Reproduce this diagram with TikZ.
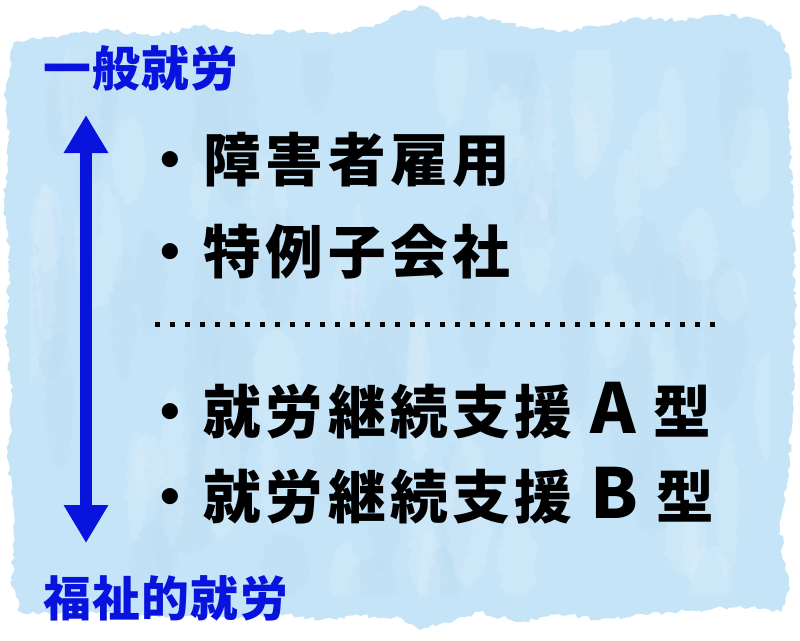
\documentclass[tikz,border=0pt]{standalone}
\usepackage{fontspec}
\newfontfamily\jp{Noto Sans CJK JP}
\newfontfamily\jplargo{Noto Sans CJK JP}[LetterSpace=8]
\newfontfamily\jpmeio{Noto Sans CJK JP}[LetterSpace=3]
\usetikzlibrary{arrows.meta,decorations.pathmorphing}
\definecolor{aguada}{RGB}{198,228,247}
\definecolor{mancha}{RGB}{176,214,240}
\definecolor{azul}{RGB}{8,20,222}
\newcommand{\letra}[1]{{\fontsize{49}{48}\selectfont #1}}
\tikzset{
  rotulo/.style={anchor=west, inner sep=0pt, text=azul, font=\jpmeio\bfseries\fontsize{34}{40}\selectfont},
  item/.style={anchor=west, inner sep=0pt, text=black, font=\jplargo\bfseries\fontsize{41}{48}\selectfont},
}
\begin{document}
\begin{tikzpicture}[x=0.025cm, y=-0.025cm]
        \useasboundingbox (0,0) rectangle (800,640);
        % Desenha o fundo rasgado
        \pgfmathsetseed{7}
        \path[fill=aguada, decorate, decoration={random steps, segment length=3pt, amplitude=1.6pt}]
          (14,42) -- (60,36) -- (110,30) -- (150,36) -- (200,26) -- (250,34) -- (300,30)
          -- (340,34) -- (380,24) -- (405,10) -- (425,6) -- (445,20) -- (480,16) -- (520,26)
          -- (560,32) -- (600,26) -- (640,18) -- (680,20) -- (720,14) -- (760,20) -- (780,32)
          -- (790,60) -- (788,120) -- (793,200) -- (795,300) -- (793,400) -- (788,480)
          -- (780,520) -- (783,560) -- (790,590) -- (782,612)
          -- (740,606) -- (700,610) -- (650,614) -- (600,620) -- (560,614) -- (520,622)
          -- (480,612) -- (440,624) -- (420,630) -- (400,618) -- (360,616) -- (320,620)
          -- (280,614) -- (240,618) -- (200,614) -- (150,617) -- (100,612) -- (50,614)
          -- (20,612) -- (12,580) -- (15,520) -- (8,460) -- (12,400) -- (6,330) -- (10,260)
          -- (4,200) -- (9,140) -- (6,90) -- (10,60) -- cycle;
        % Manchas da aguada
        \begin{scope}
          \clip (30,50) rectangle (770,595);
          \foreach \i in {1,...,45} {
            \pgfmathsetmacro{\mx}{30+740*rnd}
            \pgfmathsetmacro{\my}{50+540*rnd}
            \fill[mancha, opacity=0.16, decorate, decoration={random steps, segment length=2pt, amplitude=2pt}]
              (\mx,\my) ellipse ({10+18*rnd} and {30+60*rnd});
          }
          \foreach \i in {1,...,45} {
            \pgfmathsetmacro{\mx}{30+740*rnd}
            \pgfmathsetmacro{\my}{50+540*rnd}
            \fill[white, opacity=0.12, decorate, decoration={random steps, segment length=2pt, amplitude=2pt}]
              (\mx,\my) ellipse ({8+16*rnd} and {25+55*rnd});
          }
        \end{scope}

        \node[rotulo] (geral) at (43,68) {一般就労};
        \node[rotulo] (bemestar) at (43,598) {福祉的就労};

        % Seta dupla
        \coordinate (topo) at (86,115);
        \coordinate (base) at (86,543);
        \draw[azul, line width=0.3cm, {Triangle[width=1.05cm, length=0.95cm]}-{Triangle[width=1.05cm, length=0.95cm]}] (topo) -- (base);

        \node[item] (emprego) at (141,160) {・障害者雇用};
        \node[item] (especial) at (141,252) {・特例子会社};
        \node[item] (tipoA) at (141,411) {・就労継続支援 \letra{A} 型};
        \node[item] (tipoB) at (141,496) {・就労継続支援 \letra{B} 型};

        % Linha pontilhada
        \coordinate (pe) at (155,324);
        \coordinate (pd) at (722,324);
        \draw[black, line width=0.125cm, dash pattern=on 0.125cm off 0.25cm] (pe) -- (pd);
    \end{tikzpicture}
\end{document}
